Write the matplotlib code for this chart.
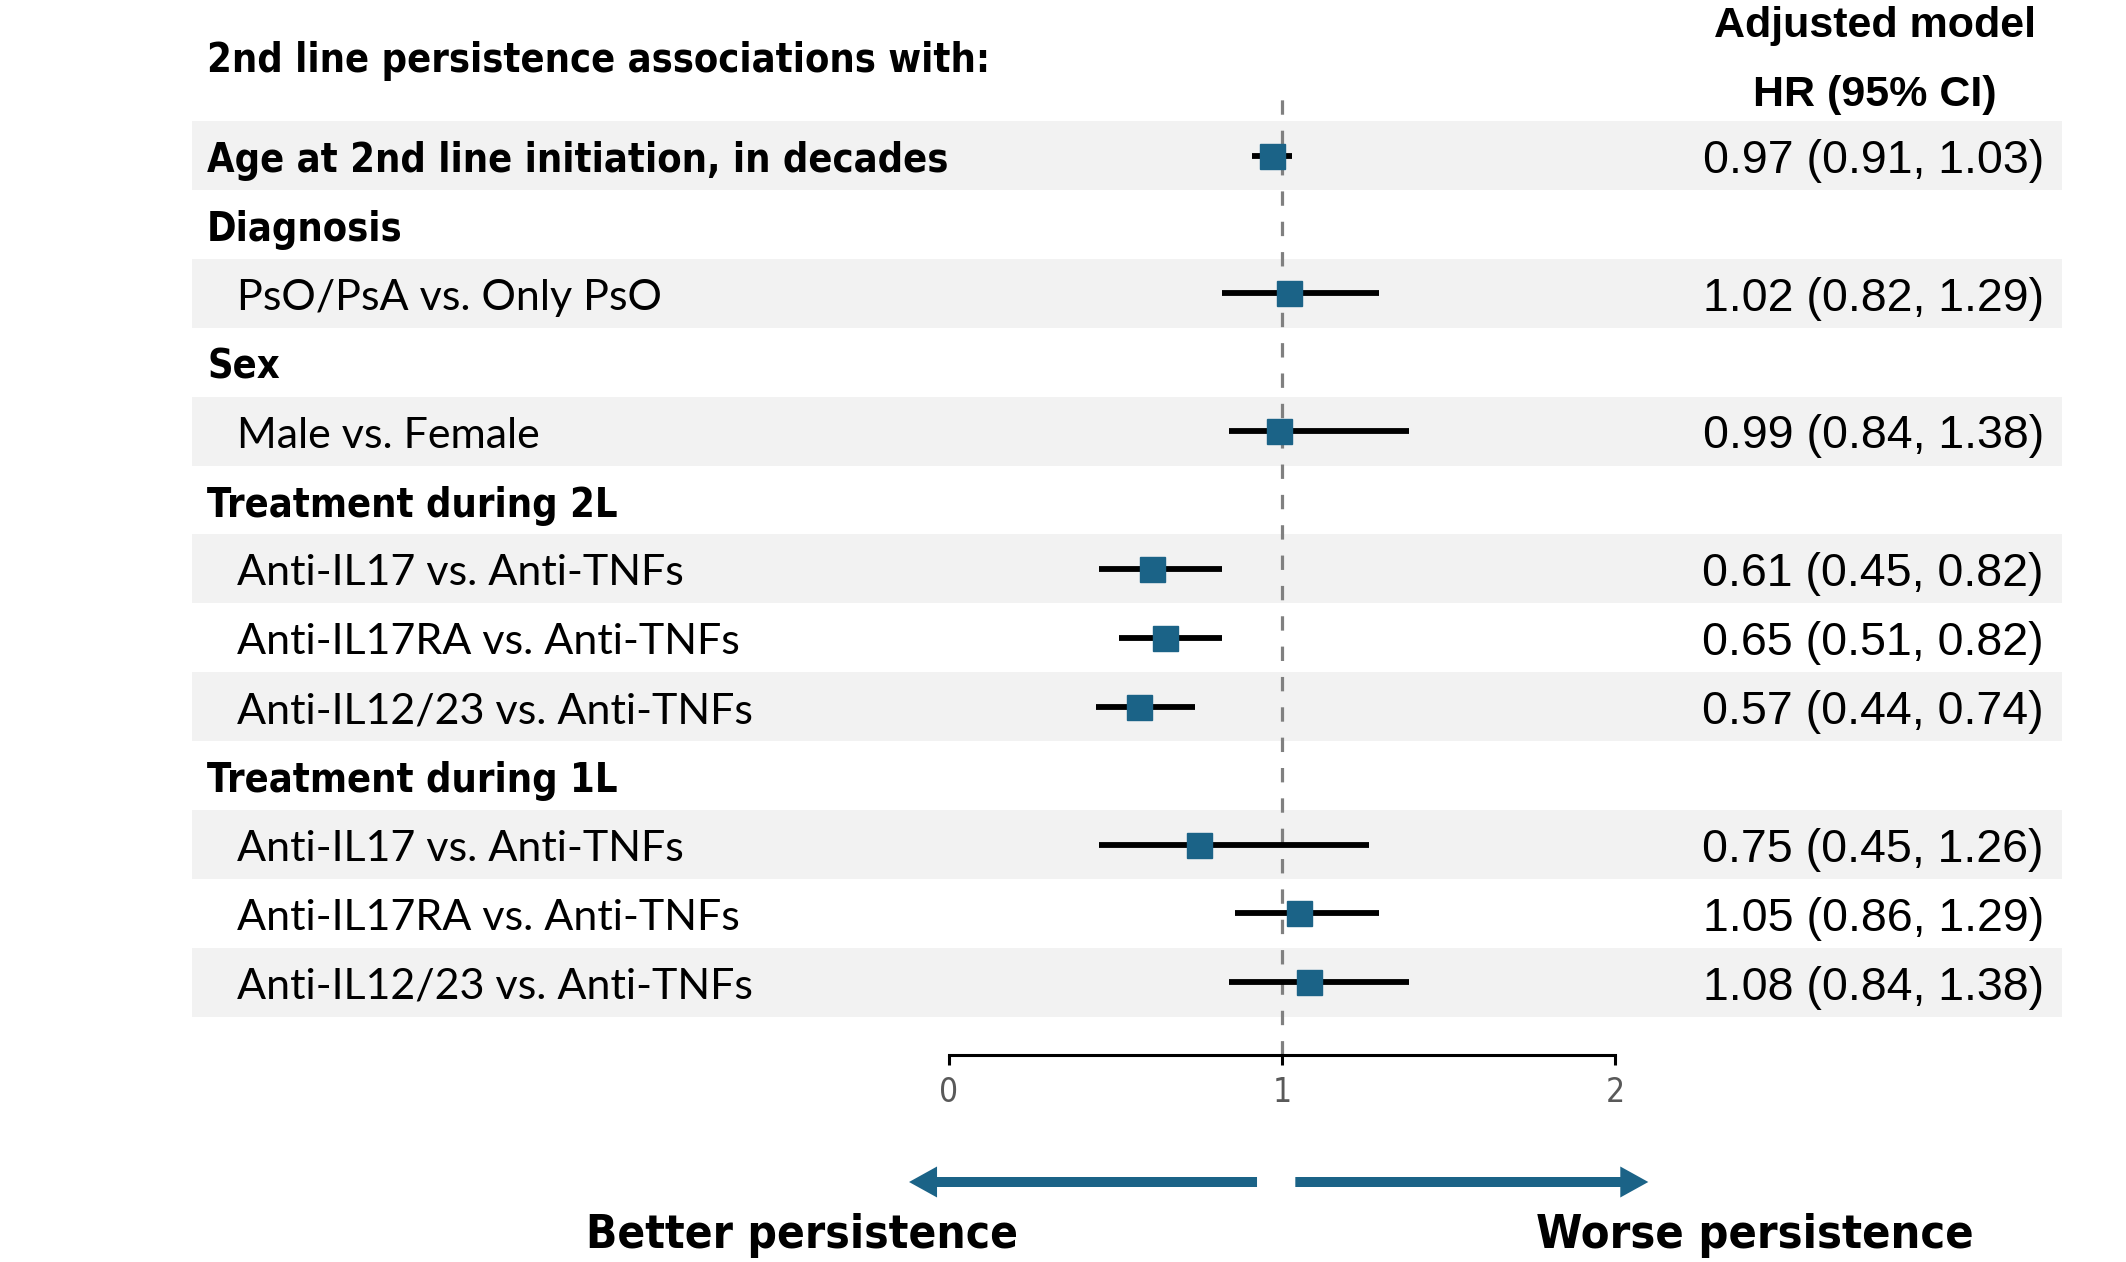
import matplotlib
matplotlib.use('Agg')
import matplotlib.pyplot as plt
from matplotlib import font_manager
from matplotlib.patches import FancyArrow
from matplotlib.transforms import IdentityTransform

# rows of the forest plot, top to bottom
labels = ['Age at 2nd line initiation, in decades', 'Diagnosis', 'PsO/PsA vs. Only PsO',
          'Sex', 'Male vs. Female', 'Treatment during 2L',
          'Anti-IL17 vs. Anti-TNFs', 'Anti-IL17RA vs. Anti-TNFs', 'Anti-IL12/23 vs. Anti-TNFs',
          'Treatment during 1L',
          'Anti-IL17 vs. Anti-TNFs', 'Anti-IL17RA vs. Anti-TNFs', 'Anti-IL12/23 vs. Anti-TNFs']
is_heading = [True, True, False, True, False, True, False, False, False, True, False, False, False]
hr = [0.97, None, 1.02, None, 0.99, None, 0.61, 0.65, 0.57, None, 0.75, 1.05, 1.08]
ci_low = [0.91, None, 0.82, None, 0.84, None, 0.45, 0.51, 0.44, None, 0.45, 0.86, 0.84]
ci_high = [1.03, None, 1.29, None, 1.38, None, 0.82, 0.82, 0.74, None, 1.26, 1.29, 1.38]
x_ticks = [0, 1, 2]

W, H = 2126, 1262
fonts = font_manager.fontManager.ttflist
names = {f.name for f in fonts}
if 'Liberation Sans Narrow' in names:
    narrow, stretch = 'Liberation Sans Narrow', 'normal'
elif any(f.name == 'DejaVu Sans' and f.stretch not in ('normal', 500) for f in fonts):
    narrow, stretch = 'DejaVu Sans', 'condensed'
else:
    narrow, stretch = 'Liberation Sans', 'normal'
regular = 'Lato' if 'Lato' in names else 'DejaVu Sans'
arial = 'Liberation Sans'

blue = '#1b6387'

fig = plt.figure(figsize=(W / 100, H / 100), dpi=100)
renderer = fig.canvas.get_renderer()


def fit(txt, target_px):
    # size a bold condensed text so it spans target_px, like the narrow font of the original
    w = txt.get_window_extent(renderer).width
    txt.set_fontsize(txt.get_fontsize() * target_px / w)
    return txt.get_fontsize()


# axes spans the shaded bands; x=0 at px 949, x=2 at px 1615
ax = fig.add_axes([192 / W, (H - 1055) / H, 1870 / W, (1055 - 88) / H])
ppu = (1615 - 949) / 2
ax.set_xlim(-(949 - 192) / ppu, 2 + (2062 - 1615) / ppu)
ax.set_ylim(13.055, -0.98)

for s in ['top', 'left', 'right']:
    ax.spines[s].set_visible(False)
ax.spines['bottom'].set_bounds(0, 2)
ax.spines['bottom'].set_linewidth(2.2)
ax.set_yticks([])
ax.set_xticks(x_ticks)
ax.set_xticklabels([str(t) for t in x_ticks])
ax.tick_params(axis='x', length=7, width=2.2, direction='out', pad=8,
               labelsize=24, labelcolor='#595959')
for t in ax.get_xticklabels():
    t.set_fontfamily(narrow)
    t.set_fontstretch(stretch)

rows = list(range(len(labels)))
for i in rows[::2]:
    ax.axhspan(i - 0.5, i + 0.5, color='#f2f2f2', lw=0, zorder=0)

ax.axvline(1, color='#808080', lw=2.3, dashes=(4.5, 5), zorder=1)

# heading font size from the width of "Treatment during 2L" (410 px in the original)
probe = fig.text(0, 0, 'Treatment during 2L', fontsize=30, fontweight='bold',
                 family=narrow, fontstretch=stretch)
head_size = fit(probe, 410)
probe.remove()

ytr = ax.get_yaxis_transform()
for i in rows:
    if is_heading[i]:
        ax.text(15 / 1870, i + 0.24, labels[i], transform=ytr, ha='left', va='baseline',
                fontsize=head_size, fontweight='bold', family=narrow, fontstretch=stretch)
    else:
        ax.text(45 / 1870, i + 0.24, labels[i], transform=ytr, ha='left', va='baseline',
                fontsize=31, family=regular)
    if hr[i] is not None:
        ax.hlines(i, ci_low[i], ci_high[i], color='black', lw=4.2, zorder=2)
        ax.plot(hr[i], i, 's', ms=18, color=blue, zorder=3)
        ax.text((2044 - 192) / 1870, i + 0.25, f'{hr[i]:.2f} ({ci_low[i]:.2f}, {ci_high[i]:.2f})',
                transform=ytr, ha='right', va='baseline', fontsize=33.5, family=arial)

# column headers
fig.text(207 / W, 1 - 72 / H, '2nd line persistence associations with:', ha='left', va='baseline',
         fontsize=head_size, fontweight='bold', family=narrow, fontstretch=stretch)
fig.text(1875 / W, 1 - 37 / H, 'Adjusted model', ha='center', va='baseline',
         fontsize=31, fontweight='bold', family=arial)
fig.text(1875 / W, 1 - 106 / H, 'HR (95% CI)', ha='center', va='baseline',
         fontsize=31, fontweight='bold', family=arial)

# direction arrows below the axis
for x0, x1 in [(0.925, -0.12), (1.04, 2.10)]:
    p0 = ax.transData.transform((x0, 0))[0]
    p1 = ax.transData.transform((x1, 0))[0]
    fig.add_artist(FancyArrow(p0, H - 1182, p1 - p0, 0, width=10, head_width=31, head_length=28,
                              length_includes_head=True, color=blue, lw=0,
                              transform=IdentityTransform()))

better = fig.text(802 / W, 14 / H, 'Better persistence', ha='center', va='baseline',
                  fontsize=40, fontweight='bold', family=narrow, fontstretch=stretch)
fit(better, 431)
worse = fig.text(1755 / W, 14 / H, 'Worse persistence', ha='center', va='baseline',
                 fontsize=40, fontweight='bold', family=narrow, fontstretch=stretch)
fit(worse, 438)

fig.savefig('out.png', dpi=100)
